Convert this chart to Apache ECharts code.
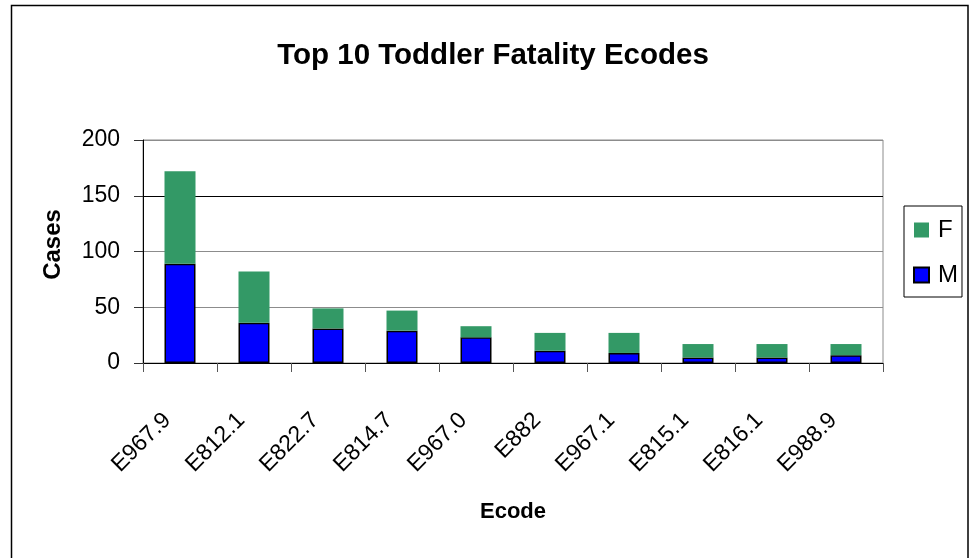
<!DOCTYPE html>
<html>
<head>
<meta charset="utf-8">
<title>Top 10 Toddler Fatality Ecodes</title>
<script src="https://cdn.jsdelivr.net/npm/echarts@6/dist/echarts.min.js"></script>
<style>
  html, body { margin: 0; padding: 0; background: #fff; }
  #chart { width: 971px; height: 558px; }
</style>
</head>
<body>
<div id="chart"></div>
<script>
// Ecodes ranked by total cases
const ecodes = ['E967.9', 'E812.1', 'E822.7', 'E814.7', 'E967.0', 'E882', 'E967.1', 'E815.1', 'E816.1', 'E988.9'];
// Cases by sex
const maleCases = [89, 36, 31, 29, 23, 11, 9, 5, 5, 7];
const femaleCases = [83, 46, 18, 18, 10, 16, 18, 12, 12, 10];
// Value axis ticks
const yTicks = [0, 50, 100, 150, 200];

const FONT = '"Liberation Sans", Arial, sans-serif';

const chart = echarts.init(document.getElementById('chart'), null, { renderer: 'canvas' });

chart.setOption({
  backgroundColor: '#ffffff',
  animation: false,
  title: {
    text: 'Top 10 Toddler Fatality Ecodes',
    left: 488,
    top: 36,
    textAlign: 'center',
    textStyle: { fontFamily: FONT, fontSize: 29.5, fontWeight: 'bold', color: '#000' }
  },
  legend: {
    orient: 'vertical',
    left: 904,
    top: 206,
    data: ['F', 'M'],
    icon: 'rect',
    itemWidth: 15,
    itemHeight: 15,
    itemGap: 21,
    padding: [12, 4, 10, 9],
    borderColor: '#000',
    borderWidth: 1,
    backgroundColor: '#fff',
    textStyle: { fontFamily: FONT, fontSize: 24, color: '#000', padding: [0, 0, 0, 4] }
  },
  grid: {
    left: 143,
    right: 88,
    top: 140,
    bottom: 195,
    show: true,
    borderColor: '#8c8c8c',
    borderWidth: 1,
    backgroundColor: '#fff'
  },
  xAxis: {
    type: 'category',
    data: ecodes,
    name: 'Ecode',
    nameLocation: 'middle',
    nameGap: 138,
    nameTextStyle: { fontFamily: FONT, fontSize: 22, fontWeight: 'bold', color: '#000' },
    axisLine: { lineStyle: { color: '#000', width: 1 } },
    axisTick: { show: true, length: 9, lineStyle: { color: '#555' } },
    axisLabel: {
      rotate: 45,
      margin: 41,
      interval: 0,
      padding: [0, 18, 0, 0],
      fontFamily: FONT,
      fontSize: 23,
      color: '#000'
    }
  },
  yAxis: {
    type: 'value',
    min: yTicks[0],
    max: yTicks[yTicks.length - 1],
    interval: yTicks[1] - yTicks[0],
    name: 'Cases',
    nameLocation: 'middle',
    nameRotate: 90,
    nameGap: 78,
    nameTextStyle: { fontFamily: FONT, fontSize: 24, fontWeight: 'bold', color: '#000', padding: [0, 0, 0, 14] },
    axisLine: { show: true, lineStyle: { color: '#000', width: 1 } },
    axisTick: { show: true, length: 9, lineStyle: { color: '#333' } },
    axisLabel: { margin: 23, fontFamily: FONT, fontSize: 23, color: '#000' },
    splitLine: {
      show: true,
      lineStyle: { color: ['#8c8c8c', '#8c8c8c', '#8c8c8c', '#000', '#8c8c8c'], width: 1 }
    }
  },
  series: [
    {
      name: 'M',
      type: 'bar',
      stack: 'sex',
      data: maleCases,
      barWidth: 31,
      itemStyle: { color: '#0000ff', borderColor: '#000', borderWidth: 1.5 }
    },
    {
      name: 'F',
      type: 'bar',
      stack: 'sex',
      data: femaleCases,
      barWidth: 31,
      itemStyle: { color: '#339966' }
    }
  ],
  graphic: [
    {
      type: 'rect',
      silent: true,
      z: 100,
      shape: { x: 11.5, y: 5.5, width: 956.5, height: 560 },
      style: { fill: null, stroke: '#000', lineWidth: 1.5 }
    }
  ]
});
</script>
</body>
</html>
